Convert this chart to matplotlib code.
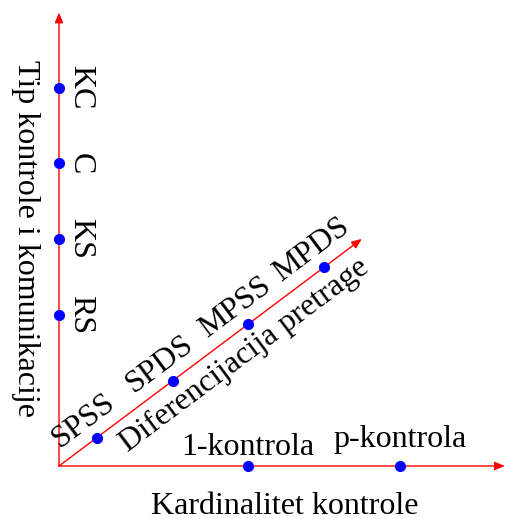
import numpy as np
import matplotlib
matplotlib.use('Agg')
import matplotlib.pyplot as plt

# podaci
y_labels = ['RS', 'KS', 'C', 'KC']
y_vals = [2, 3, 4, 5]

x_labels = ['1-kontrola', 'p-kontrola']
x_vals = [2.5, 4.5]

d_labels = ['SPSS', 'SPDS', 'MPSS', 'MPDS']
d_x = [0.5, 1.5, 2.5, 3.5]
d_y = [0.375, 1.125, 1.875, 2.625]

x_title = 'Kardinalitet kontrole'
y_title = 'Tip kontrole i komunikacije'
d_title = 'Diferencijacija pretrage'
d_end = (4, 3)

plt.rcParams['font.family'] = ['Liberation Serif', 'DejaVu Serif']
fs = 23

fig = plt.figure(figsize=(5.05, 5.19), dpi=100)
ax = fig.add_axes([0, 0, 1, 1])
u = 75.7  # px po jedinici
ax.set_xlim(-59 / u, (505 - 59) / u)
ax.set_ylim(-(519 - 466) / u, 466 / u)
ax.axis('off')

arr = dict(arrowstyle='-|>,head_length=0.6,head_width=0.25', color='red',
           lw=1, shrinkA=0, shrinkB=0)

# ose
ax.annotate('', xy=(5.89, 0), xytext=(0, 0), arrowprops=arr)
ax.annotate('', xy=(0, 5.99), xytext=(0, 0), arrowprops=arr)
ax.annotate('', xy=d_end, xytext=(0, 0), arrowprops=arr)

ang = np.degrees(np.arctan2(d_end[1], d_end[0]))
nx, ny = -np.sin(np.radians(ang)), np.cos(np.radians(ang))

# tacke
ax.plot([0] * len(y_vals), y_vals, 'o', color='blue', ms=7, zorder=5)
ax.plot(x_vals, [0] * len(x_vals), 'o', color='blue', ms=7, zorder=5)
ax.plot(d_x, d_y, 'o', color='blue', ms=7, zorder=5)

for lab, v in zip(y_labels, y_vals):
    ax.text(0.28, v, lab, rotation=-90, ha='center', va='center', fontsize=fs)

for lab, v in zip(x_labels, x_vals):
    # kao tikz "above": donji rub ukljucuje descender
    off = 0.255 if any(c in lab for c in 'gjpqy') else 0.145
    ax.text(v, off, lab, ha='center', va='baseline', fontsize=fs)

for lab, xx, yy in zip(d_labels, d_x, d_y):
    ax.text(xx + 0.28 * nx, yy + 0.28 * ny, lab, rotation=ang,
            rotation_mode='anchor', ha='center', va='center', fontsize=fs)

t = 2.27 / d_end[0]
ax.text(t * d_end[0] - 0.3 * nx, t * d_end[1] - 0.3 * ny, d_title, rotation=ang,
        rotation_mode='anchor', ha='center', va='center', fontsize=fs)

ax.text(2.985, -0.634, x_title, ha='center', va='baseline', fontsize=fs)
ax.text(-0.44, 3.0, y_title, rotation=-90, ha='center', va='center', fontsize=fs)

plt.savefig('out.png', dpi=100)
